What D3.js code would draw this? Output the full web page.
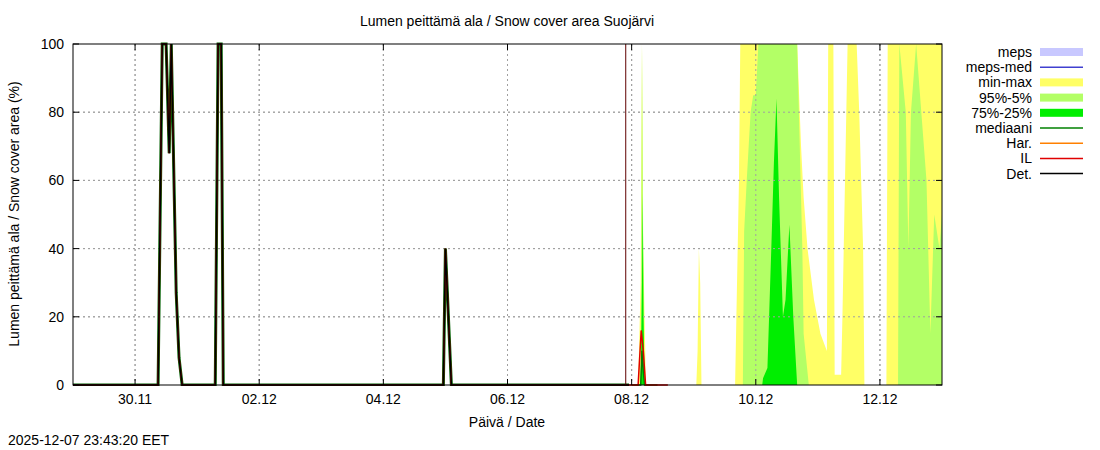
<!DOCTYPE html><html><head><meta charset="utf-8"><script src="https://cdn.jsdelivr.net/npm/d3@7"></script>
<style>body{margin:0;background:#fff}text{font-family:"Liberation Sans",Arial,sans-serif}</style></head><body>
<svg id="c" width="1100" height="450"></svg>
<script>
// past series: hours from 29.11 00:00 UTC
const detH=[0,32.9,34.5,36,37.2,38,39.9,41,42.2,55,56.1,57.3,58.1,143.2,144,146.3,215];
const detV=[0,0,100,100,68,100,27,8,0,0,100,100,0,0,40,0,0];
const ilH=[0,32.9,34.5,36,37.2,38,39.9,41,42.2,55,56.1,57.3,58.1,143.2,144,146.3,218.5,219.7,220.5,221.4,230];
const ilV=[0,0,100,100,68,100,27,8,0,0,100,100,0,0,40,0,0,16,10,0,0];
// forecast bands: hours from 08.12 00:00 UTC
const minmaxH=[0,2.5,3.5,4,4.5,5.5,25,25.5,26,26.5,27,40,40.5,41.5,42,64,65.5,66.5,68,70.5,73,75.5,76,78,78.5,81,81.5,83,83.5,87,88,89.5,90,98.5,99,121];
const minmaxV=[0,0,30,100,40,0,0,10,40,30,0,0,20,60,100,100,70,55,40,25,15,10,100,100,3,3,20,80,100,100,80,40,0,0,100,100];
const p95H=[0,3.5,4,4.5,5,43,43.5,44.5,46,47,48,49,64,65,66,66.5,68.5,103,103.5,106,107,108,110,114,115.5,117,119,121];
const p95V=[0,0,100,30,0,0,45,60,80,85,85,100,100,70,40,15,0,0,100,80,40,80,100,60,15,50,40,60];
const p75H=[0,3.5,4,4.3,4.6,5,50.5,50.8,52.5,54,55,56,57,58.5,59.5,61,62.5,64];
const p75V=[0,0,30,56,20,0,0,2,5,40,65,84,55,20,25,47,20,0];
const medH=[0,3.5,4,4.5,5,10];
const medV=[0,0,10,4,0,0];
const yTicks=[0,20,40,60,80,100];
const legendItems=[["meps","#c8c8ff","box"],["meps-med","#4040d0","line"],["min-max","#ffff66","box"],["95%-5%","#b3ff66","box"],["75%-25%","#00ee00","box"],["mediaani","#008000","line"],["Har.","#ff8000","line"],["IL","#e00000","line"],["Det.","#000000","line"]];

const svg=d3.select("#c");
const L=73,R=942,T=44,B=385;
const t0=Date.UTC(2025,10,29), f0=Date.UTC(2025,11,8);
const x=d3.scaleUtc().domain([new Date(t0),new Date(Date.UTC(2025,11,13))]).range([L,R]);
const y=d3.scaleLinear().domain([0,100]).range([B,T]);
const hp=h=>new Date(t0+h*3600e3), hf=h=>new Date(f0+h*3600e3);
const ticks=d3.range(0,7).map(i=>new Date(Date.UTC(2025,10,30+2*i)));
svg.append("clipPath").attr("id","cp").append("rect").attr("x",L).attr("y",T-2).attr("width",R-L).attr("height",B-T+3);
const g=svg.append("g").attr("clip-path","url(#cp)");
g.selectAll(".gx").data(ticks).join("line").attr("x1",d=>x(d)).attr("x2",d=>x(d)).attr("y1",T).attr("y2",B).attr("stroke","#a0a0a0").attr("stroke-dasharray","2,3");
g.selectAll(".gy").data(yTicks.slice(1,-1)).join("line").attr("x1",L).attr("x2",R).attr("y1",d=>y(d)).attr("y2",d=>y(d)).attr("stroke","#a0a0a0").attr("stroke-dasharray","2,3");
function band(H,V,f,col){const ar=d3.area().x((d,i)=>x(f(H[i]))).y0(B).y1(d=>y(d));g.append("path").attr("d",ar(V)).attr("fill",col);}
band(minmaxH,minmaxV,hf,"#ffff66");
band(p95H,p95V,hf,"#b3ff66");
band(p75H,p75V,hf,"#00ee00");
g.selectAll(".gx2").data(ticks).join("line").attr("x1",d=>x(d)).attr("x2",d=>x(d)).attr("y1",T).attr("y2",B).attr("stroke","#a0a0a0").attr("stroke-dasharray","2,3");
g.selectAll(".gy2").data(yTicks.slice(1,-1)).join("line").attr("x1",L).attr("x2",R).attr("y1",d=>y(d)).attr("y2",d=>y(d)).attr("stroke","#a0a0a0").attr("stroke-dasharray","2,3");
function line(H,V,f,col,w){const ln=d3.line().x((d,i)=>x(f(H[i]))).y(d=>y(d));g.append("path").attr("d",ln(V.slice(0,H.length))).attr("fill","none").attr("stroke",col).attr("stroke-width",w);}
line(medH,medV,hf,"#008000",1.5);
line(detH,detV,hp,"#006000",3);
line(ilH,ilV,hp,"#e00000",1.5);
line(detH,detV,hp,"#000000",1.5);
const now=new Date(Date.UTC(2025,11,7,21,43));
g.append("line").attr("x1",x(now)).attr("x2",x(now)).attr("y1",T).attr("y2",B).attr("stroke","#600000").attr("stroke-width",1);
svg.append("rect").attr("x",L).attr("y",T).attr("width",R-L).attr("height",B-T).attr("fill","none").attr("stroke","#000");
svg.selectAll(".tx").data(ticks).join("g").each(function(d){const s=d3.select(this);s.append("line").attr("x1",x(d)).attr("x2",x(d)).attr("y1",B).attr("y2",B-6).attr("stroke","#000");s.append("line").attr("x1",x(d)).attr("x2",x(d)).attr("y1",T).attr("y2",T+6).attr("stroke","#000");s.append("text").attr("x",x(d)).attr("y",B+19).attr("text-anchor","middle").attr("font-size",14).text(d3.utcFormat("%d.%m")(d));});
svg.selectAll(".ty").data(yTicks).join("g").each(function(d){const s=d3.select(this);s.append("line").attr("x1",L).attr("x2",L+6).attr("y1",y(d)).attr("y2",y(d)).attr("stroke","#000");s.append("line").attr("x1",R).attr("x2",R-6).attr("y1",y(d)).attr("y2",y(d)).attr("stroke","#000");s.append("text").attr("x",L-9).attr("y",y(d)+5).attr("text-anchor","end").attr("font-size",14).text(d);});
svg.append("text").attr("x",507).attr("y",26).attr("text-anchor","middle").attr("font-size",14).text("Lumen peittämä ala / Snow cover area Suojärvi");
svg.append("text").attr("x",507).attr("y",427).attr("text-anchor","middle").attr("font-size",14).text("Päivä / Date");
svg.append("text").attr("transform","translate(19,214) rotate(-90)").attr("text-anchor","middle").attr("font-size",14).text("Lumen peittämä ala / Snow cover area (%)");
svg.append("text").attr("x",8).attr("y",445).attr("font-size",14).text("2025-12-07 23:43:20 EET");
legendItems.forEach((d,i)=>{const yy=52+i*15.2;svg.append("text").attr("x",1032).attr("y",yy+5).attr("text-anchor","end").attr("font-size",14).text(d[0]);
if(d[2]=="box")svg.append("rect").attr("x",1040).attr("y",yy-4).attr("width",43).attr("height",8).attr("fill",d[1]);
else svg.append("line").attr("x1",1040).attr("x2",1083).attr("y1",yy).attr("y2",yy).attr("stroke",d[1]).attr("stroke-width",1.5);});
</script></body></html>
